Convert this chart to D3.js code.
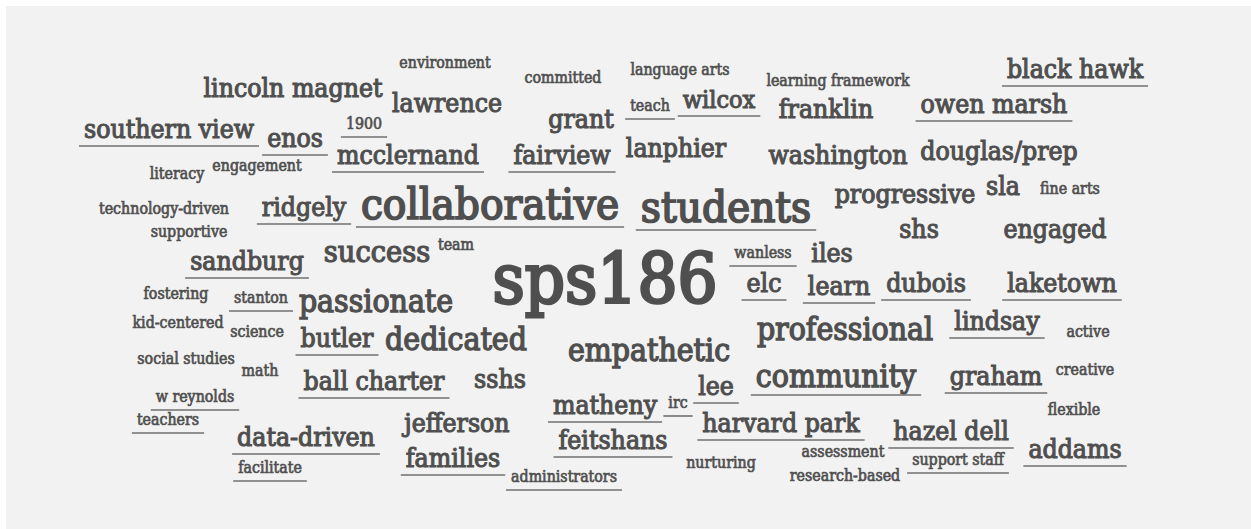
<!DOCTYPE html>
<html>
<head>
<meta charset="utf-8">
<script src="https://cdn.jsdelivr.net/npm/d3@7"></script>
<style>
  body { margin: 0; background: #fff; }
  svg { display: block; }
</style>
</head>
<body>
<div id="cloud"></div>
<script>
// words of the cloud, their weight (count) and where the cloud layout put them
// (layout units, offset from the cloud centre, y = baseline)
const words = ["environment","committed","language arts","learning framework","black hawk","lincoln magnet",
  "lawrence","grant","teach","wilcox","franklin","owen marsh","1900","southern view","enos","mcclernand",
  "fairview","lanphier","washington","douglas/prep","literacy","engagement","progressive","sla","fine arts",
  "technology-driven","ridgely","collaborative","students","supportive","shs","engaged","success","team",
  "wanless","iles","sandburg","sps186","elc","learn","dubois","laketown","fostering","stanton","passionate",
  "kid-centered","science","butler","dedicated","professional","lindsay","active","social studies","math",
  "empathetic","ball charter","sshs","lee","community","graham","creative","w reynolds","matheny","irc",
  "teachers","jefferson","harvard park","flexible","data-driven","feitshans","hazel dell","assessment",
  "families","nurturing","support staff","addams","facilitate","administrators","research-based"];

const weights = [5,5,5,5,13,13,
  13,13,5,12,13,13,5,13,13,13,
  13,13,13,13,5,5,13,13,5,
  5,13,26,26,5,13,13,16,5,
  5,13,13,46,13,13,13,13,5,5,17,
  5,5,13,17,17,13,5,5,5,
  17,13,13,13,17,13,5,5,13,5,
  5,13,13,5,13,13,13,5,
  13,5,5,13,5,5,5];

const cloudX = [-180,-62,55,213,450,-332,
  -178,-44,25,94,201,369,-261,-456,-330,-217,
  -63,51,213,374,-448,-368,280,378,445,
  -461,-321,-135,101,-436,294,430,-248,-169,
  138,207,-378,-20,139,214,301,437,-449,-364,-249,
  -447,-368,-288,-169,220,372,463,-439,-365,
  24,-251,-125,91,211,371,460,-430,-20,53,
  -457,-168,156,449,-319,-12,326,218,
  -172,96,333,450,-355,-61,220];

const cloudY = [-197,-182,-190,-179,-187,-168,
  -153,-137,-154,-157,-147,-152,-136,-127,-118,-101,
  -101,-108,-101,-105,-86,-94,-62,-70,-71,
  -51,-49,-46,-43,-28,-27,-27,-3,-15,
  -7,-3,5,38,27,30,27,27,34,38,47,
  63,72,82,85,75,65,72,99,111,
  96,125,123,130,122,120,110,137,149,143,
  160,167,167,150,181,184,175,192,
  202,203,200,193,208,217,216];

// words that were links in the original page (drawn underlined)
const linked = new Set(["black hawk","teach","wilcox","owen marsh","1900","southern view","enos","mcclernand",
  "fairview","ridgely","collaborative","students","wanless","sandburg","elc","learn","dubois","laketown",
  "stanton","butler","lindsay","ball charter","lee","community","graham","w reynolds","matheny","irc",
  "teachers","harvard park","data-driven","feitshans","hazel dell","families","support staff","addams",
  "facilitate","administrators"]);

function init() {
  const data = words.map((w, i) => ({text: w, weight: weights[i], x: cloudX[i], y: cloudY[i], linked: linked.has(w)}));
  createWordCloud(data);
}

function createWordCloud(data) {
  const width = 1251, height = 529;

  const svg = d3.select("div#cloud").append("svg")
      .attr("width", width)
      .attr("height", height);

  svg.append("rect")
      .attr("x", 6).attr("y", 6)
      .attr("width", width - 6).attr("height", height - 6)
      .attr("fill", "#f2f2f2");

  const x = d3.scaleLinear().domain([-625, 626]).range([0, width]);
  const y = d3.scaleLinear().domain([-265, 264]).range([0, height]);
  const size = d3.scaleLinear().domain([5, 46]).range([15.8, 70]);

  const g = svg.append("g");

  const words = g.selectAll("g.word")
      .data(data)
      .enter().append("g")
        .attr("class", "word")
        .attr("transform", d => `translate(${x(d.x)},${y(d.y)})`);

  // thin stroke of the same colour to get closer to the heavier original face
  words.append("text")
      .attr("text-anchor", "middle")
      .attr("font-family", "'DejaVu Serif Condensed', 'DejaVu Serif', serif")
      .attr("font-stretch", "condensed")
      .attr("font-size", d => size(d.weight) + "px")
      .attr("fill", "#4f4f4f")
      .attr("stroke", "#4f4f4f")
      .attr("stroke-width", d => size(d.weight) * 0.04)
      .text(d => d.text);

  // underline links, a bit wider than the word
  words.filter(d => d.linked).each(function(d) {
    const w = d3.select(this).select("text").node().getComputedTextLength();
    d3.select(this).append("line")
        .attr("x1", -w / 2 - 5).attr("x2", w / 2 + 5)
        .attr("y1", 8).attr("y2", 8)
        .attr("stroke", "#707070")
        .attr("stroke-width", 1.6);
  });
}

init();
</script>
</body>
</html>
